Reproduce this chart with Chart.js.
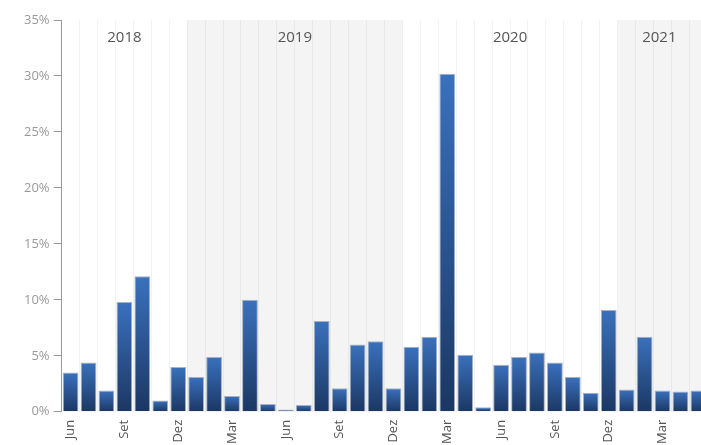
<!DOCTYPE html>
<html lang="pt">

<head>
    <meta charset="UTF-8">
    <title>Variação mensal</title>
    <script src="https://cdn.jsdelivr.net/npm/chart.js"></script>
    <style>
        html, body { margin: 0; padding: 0; background: #fff; overflow: hidden; }
        canvas { display: block; }
    </style>
</head>

<body>
<!-- slightly larger than the window: the original is cropped on the right and bottom -->
<canvas id="chartCanvas" width="722" height="452"></canvas>

<script>
    // one bar per month, Jun 2018 .. Mai 2021
    const months = ['Jun', 'Jul', 'Ago', 'Set', 'Out', 'Nov', 'Dez',
        'Jan', 'Fev', 'Mar', 'Abr', 'Mai', 'Jun', 'Jul', 'Ago', 'Set', 'Out', 'Nov', 'Dez',
        'Jan', 'Fev', 'Mar', 'Abr', 'Mai', 'Jun', 'Jul', 'Ago', 'Set', 'Out', 'Nov', 'Dez',
        'Jan', 'Fev', 'Mar', 'Abr', 'Mai'];
    const years = [2018, 2018, 2018, 2018, 2018, 2018, 2018,
        2019, 2019, 2019, 2019, 2019, 2019, 2019, 2019, 2019, 2019, 2019, 2019,
        2020, 2020, 2020, 2020, 2020, 2020, 2020, 2020, 2020, 2020, 2020, 2020,
        2021, 2021, 2021, 2021, 2021];
    const values = [3.5, 4.4, 1.9, 9.8, 12.1, 1.0, 4.0,
        3.1, 4.9, 1.4, 10.0, 0.7, 0.2, 0.6, 8.1, 2.1, 6.0, 6.3, 2.1,
        5.8, 6.7, 30.2, 5.1, 0.4, 4.2, 4.9, 5.3, 4.4, 3.1, 1.7, 9.1,
        2.0, 6.7, 1.9, 1.8, 1.9];
    const shownMonths = ['Jun', 'Set', 'Dez', 'Mar'];

    // grey band behind every other year + year captions on top
    const yearBands = {
        id: 'yearBands',
        beforeDatasetsDraw(chart) {
            const { ctx, chartArea, scales: { x } } = chart;
            const half = (x.getPixelForValue(1) - x.getPixelForValue(0)) / 2;
            const groups = [];
            years.forEach((y, i) => {
                const last = groups[groups.length - 1];
                if (last && last.year === y) last.end = i;
                else groups.push({ year: y, start: i, end: i });
            });
            ctx.save();
            groups.forEach((g, n) => {
                const left = x.getPixelForValue(g.start) - half;
                // captions are centred on the visible part of the band
                const right = Math.min(x.getPixelForValue(g.end) + half, 701);
                if (n % 2 === 1) {
                    ctx.fillStyle = 'rgba(0,0,0,0.045)';
                    ctx.fillRect(left, chartArea.top, right - left, chartArea.bottom - chartArea.top);
                }
                ctx.fillStyle = '#555';
                ctx.font = '15px "Open Sans"';
                ctx.textAlign = 'center';
                ctx.textBaseline = 'middle';
                ctx.fillText(String(g.year), (left + right) / 2, chartArea.top + 18);
            });
            ctx.restore();
        }
    };

    function barGradient(context) {
        const chart = context.chart;
        const { ctx, chartArea, scales } = chart;
        if (!chartArea || !scales.y) return '#2b5898';
        const v = values[context.dataIndex];
        const top = scales.y.getPixelForValue(v);
        const bottom = scales.y.getPixelForValue(0);
        const g = ctx.createLinearGradient(0, top, 0, bottom);
        g.addColorStop(0, '#3a71bd');
        g.addColorStop(1, '#1b3763');
        return g;
    }

    new Chart(document.getElementById('chartCanvas'), {
        type: 'bar',
        data: {
            labels: months,
            datasets: [{
                data: values,
                backgroundColor: barGradient,
                borderColor: '#a7b1bf',
                borderWidth: 1,
                barPercentage: 0.88,
                categoryPercentage: 1
            }]
        },
        options: {
            responsive: false,
            animation: false,
            layout: { padding: { top: 20, left: 20, right: 0, bottom: 0 } },
            plugins: {
                legend: { display: false },
                tooltip: { enabled: false }
            },
            scales: {
                x: {
                    offset: true,
                    grid: { offset: true, color: 'rgba(0,0,0,0.05)', drawTicks: false },
                    border: { display: false },
                    ticks: {
                        autoSkip: false,
                        minRotation: 90,
                        maxRotation: 90,
                        padding: 8,
                        color: '#555',
                        font: { family: 'Open Sans', size: 13 },
                        callback: (v, i) => (i % 3 === 0 && shownMonths.includes(months[i])) ? months[i] : ''
                    }
                },
                y: {
                    min: 0,
                    max: 35,
                    ticks: {
                        stepSize: 5,
                        padding: 4,
                        color: '#999',
                        font: { family: 'Open Sans', size: 13 },
                        callback: v => v + '%'
                    },
                    grid: { drawOnChartArea: false, tickLength: 8, color: '#999' },
                    border: { color: '#999' }
                }
            }
        },
        plugins: [yearBands]
    });
</script>
</body>

</html>
